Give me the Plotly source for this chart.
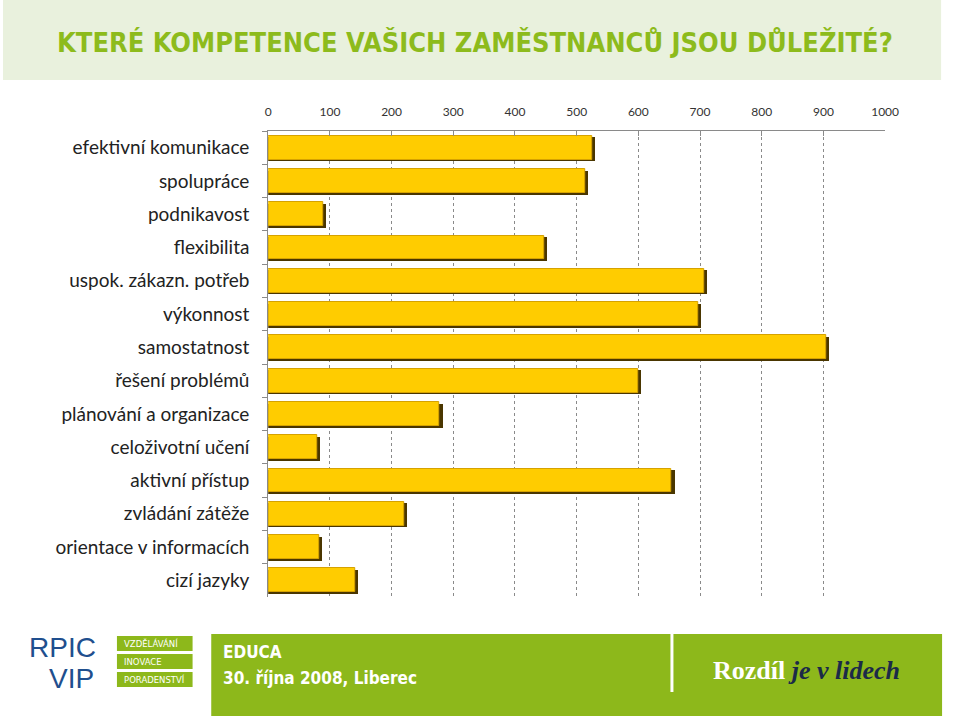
import plotly.graph_objects as go

categories = [
    "efektivní komunikace", "spolupráce", "podnikavost", "flexibilita",
    "uspok. zákazn. potřeb", "výkonnost", "samostatnost", "řešení problémů",
    "plánování a organizace", "celoživotní učení", "aktivní přístup",
    "zvládání zátěže", "orientace v informacích", "cizí jazyky",
]
values = [525, 514, 89, 447, 706, 697, 904, 599, 278, 80, 654, 220, 83, 141]
x_ticks = [0, 100, 200, 300, 400, 500, 600, 700, 800, 900, 1000]
title_text = "KTERÉ KOMPETENCE VAŠICH ZAMĚSTNANCŮ JSOU DŮLEŽITÉ?"
event_line1 = "EDUCA"
event_line2 = "30. října 2008, Liberec"
logo_boxes = ["VZDĚLÁVÁNÍ", "INOVACE", "PORADENSTVÍ"]

W, H = 960, 717
def X(p): return p / W
def Y(p): return 1 - p / H

GREEN = "#8db81b"
NARROW = "DejaVu Sans Condensed, Liberation Sans Narrow, Arial Narrow, sans-serif"

fig = go.Figure()
# shadow of bars (3D effect)
fig.add_trace(go.Bar(
    y=categories, x=[v + 5 for v in values], orientation="h",
    width=0.72, offset=-0.36 + 0.05,
    marker=dict(color="#4a3600", line=dict(width=0)),
    hoverinfo="skip", showlegend=False,
))
fig.add_trace(go.Bar(
    y=categories, x=values, orientation="h",
    width=0.72, offset=-0.36,
    marker=dict(color="#FFCC00", line=dict(color="#d6a200", width=1)),
    showlegend=False,
))

shapes = []
# title box
shapes.append(dict(type="rect", xref="paper", yref="paper", x0=0, x1=X(955), y0=Y(80), y1=1,
                   fillcolor="#e9f1dd", line=dict(width=0), layer="below"))
# footer green band
shapes.append(dict(type="rect", xref="paper", yref="paper", x0=X(212), x1=X(956), y0=Y(716), y1=Y(634),
                   fillcolor=GREEN, line=dict(width=0), layer="below"))
shapes.append(dict(type="line", xref="paper", yref="paper", x0=X(681), x1=X(681), y0=Y(692), y1=Y(634),
                   line=dict(color="white", width=3)))
# logo boxes
box_tops = [636, 654, 672]
annotations = []
for t, lbl in zip(box_tops, logo_boxes):
    shapes.append(dict(type="rect", xref="paper", yref="paper", x0=X(116), x1=X(193), y0=Y(t + 15), y1=Y(t),
                       fillcolor=GREEN, line=dict(width=0)))
    annotations.append(dict(text=lbl, x=X(121), y=Y(t + 7.5), xref="paper", yref="paper", xanchor="left",
                            yanchor="middle", showarrow=False,
                            font=dict(family="DejaVu Sans", size=8.5, color="white")))

annotations += [
    dict(text="<b>" + title_text + "</b>", x=X(481), y=Y(42), xref="paper", yref="paper", showarrow=False,
         xanchor="center", yanchor="middle",
         font=dict(family=NARROW, size=27, color="#8dbb1c")),
    dict(text="RPIC", x=X(61), y=Y(647), xref="paper", yref="paper", showarrow=False,
         xanchor="center", yanchor="middle",
         font=dict(family="Liberation Sans", size=28, color="#1f4f8e")),
    dict(text="VIP", x=X(70), y=Y(678), xref="paper", yref="paper", showarrow=False,
         xanchor="center", yanchor="middle",
         font=dict(family="Liberation Sans", size=28, color="#1f4f8e")),
    dict(text="<b>" + event_line1 + "</b>", x=X(222), y=Y(652), xref="paper", yref="paper", showarrow=False,
         xanchor="left", yanchor="middle",
         font=dict(family=NARROW, size=17, color="white")),
    dict(text="<b>" + event_line2 + "</b>", x=X(222), y=Y(678), xref="paper", yref="paper", showarrow=False,
         xanchor="left", yanchor="middle",
         font=dict(family=NARROW, size=17, color="white")),
    dict(text="<b>Rozdíl</b> <b><i><span style='color:#1b2a48'>je v lidech</span></i></b>",
         x=X(818), y=Y(670), xref="paper", yref="paper", showarrow=False,
         xanchor="center", yanchor="middle",
         font=dict(family="Liberation Serif", size=26, color="white")),
]

fig.update_layout(
    width=W, height=H, autosize=False,
    margin=dict(l=0, r=0, t=0, b=0),
    paper_bgcolor="white", plot_bgcolor="rgba(0,0,0,0)",
    barmode="overlay", bargap=0,
    shapes=shapes, annotations=annotations,
    xaxis=dict(
        side="top", range=[0, 1000], domain=[X(270), X(898)],
        tickvals=x_ticks, ticktext=[str(v) for v in x_ticks],
        showgrid=True, gridcolor="#8a8a8a", griddash="dot", gridwidth=1,
        showline=True, linecolor="#8a8a8a", linewidth=1,
        ticks="inside", ticklen=5, tickcolor="#8a8a8a",
        zeroline=False, ticklabelstandoff=9,
        tickfont=dict(family="Lato, Open Sans", size=12, color="#333333"),
    ),
    yaxis=dict(
        type="category", categoryorder="array", categoryarray=categories,
        autorange="reversed", domain=[Y(597), Y(131)],
        tickson="boundaries", ticks="outside", ticklen=5, tickcolor="#8a8a8a",
        showline=True, linecolor="#8a8a8a", linewidth=1,
        showgrid=False, ticklabelstandoff=14,
        tickfont=dict(family="Lato, Open Sans", size=19, color="#222222"),
    ),
)

fig.write_html(
    "out.html",
    config={"responsive": False, "displayModeBar": False},
    post_script=(
        "document.documentElement.style.margin='0';document.documentElement.style.padding='0';"
        "document.documentElement.style.overflow='hidden';"
        "document.body.style.margin='0';document.body.style.padding='0';document.body.style.overflow='hidden';"
    ),
)
